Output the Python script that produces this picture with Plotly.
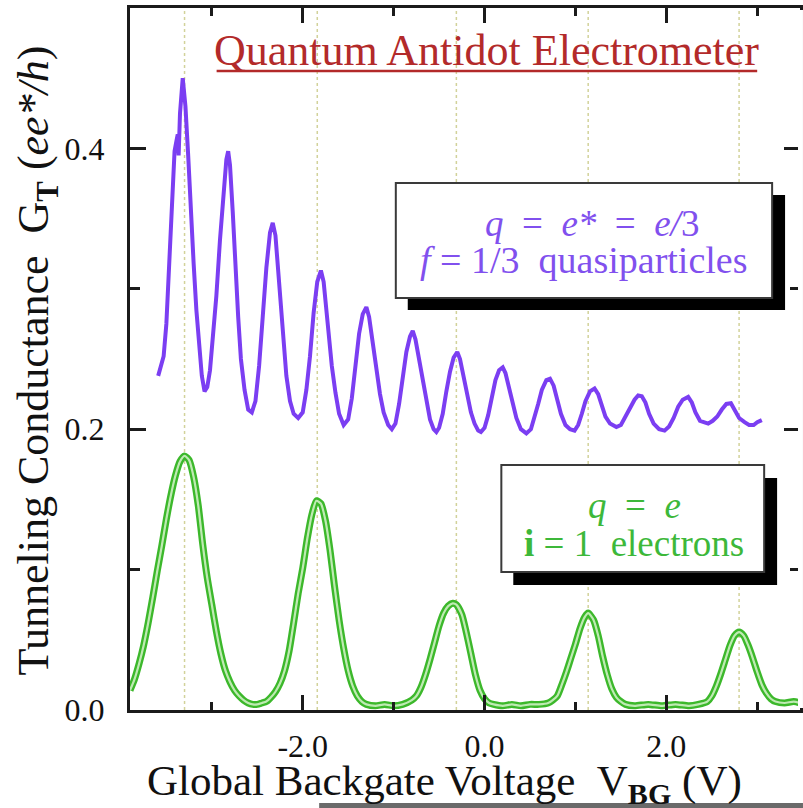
import plotly.graph_objects as go

# ---------------- data ----------------
# f = 1/3 quasiparticle trace (purple)
qp_v = [-3.59,-3.56,-3.53,-3.50,-3.47,-3.44,-3.41,-3.39,-3.375,-3.365,-3.35,-3.32,-3.29,-3.26,-3.23,-3.20,-3.17,-3.14,-3.11,-3.08,
        -3.05,-3.02,-2.99,-2.95,-2.91,-2.87,-2.84,-2.82,-2.80,-2.77,-2.74,-2.71,-2.68,-2.64,-2.60,-2.56,-2.52,-2.48,-2.44,-2.40,
        -2.36,-2.33,-2.30,-2.27,-2.24,-2.21,-2.18,-2.14,-2.10,-2.05,-2.00,-1.96,-1.92,-1.88,-1.84,-1.80,-1.77,-1.74,-1.71,-1.68,
        -1.64,-1.60,-1.55,-1.50,-1.46,-1.42,-1.38,-1.34,-1.30,-1.27,-1.23,-1.19,-1.15,-1.11,-1.06,-1.02,-0.98,-0.94,-0.90,-0.86,
        -0.82,-0.79,-0.76,-0.72,-0.68,-0.64,-0.60,-0.56,-0.53,-0.50,-0.46,-0.42,-0.38,-0.34,-0.30,-0.27,-0.23,-0.19,-0.15,-0.11,
        -0.07,-0.04,0.00,0.04,0.08,0.12,0.16,0.20,0.23,0.27,0.31,0.35,0.40,0.46,0.51,0.55,0.59,0.63,0.68,0.72,
        0.76,0.80,0.84,0.89,0.94,0.99,1.03,1.07,1.11,1.16,1.21,1.25,1.29,1.33,1.38,1.45,1.50,1.55,1.60,1.65,
        1.69,1.73,1.77,1.81,1.86,1.92,1.98,2.03,2.08,2.13,2.18,2.24,2.28,2.32,2.37,2.42,2.46,2.51,2.56,2.61,
        2.66,2.71,2.75,2.80,2.86,2.91,2.96,3.00,3.05]
qp_g = [0.238,0.245,0.252,0.275,0.315,0.360,0.398,0.405,0.410,0.395,0.425,0.450,0.430,0.395,0.350,0.318,0.285,0.258,0.238,0.227,
        0.230,0.242,0.262,0.295,0.335,0.372,0.392,0.398,0.388,0.355,0.315,0.280,0.250,0.228,0.214,0.212,0.220,0.245,0.280,0.315,
        0.340,0.347,0.338,0.315,0.290,0.262,0.238,0.220,0.211,0.208,0.212,0.228,0.252,0.283,0.305,0.313,0.305,0.285,0.265,0.245,
        0.226,0.211,0.203,0.207,0.222,0.247,0.268,0.282,0.287,0.280,0.262,0.243,0.225,0.212,0.203,0.200,0.204,0.218,0.237,0.255,
        0.266,0.270,0.264,0.250,0.234,0.219,0.207,0.200,0.198,0.201,0.211,0.227,0.241,0.251,0.255,0.250,0.238,0.224,0.212,0.204,
        0.199,0.198,0.201,0.210,0.223,0.235,0.242,0.244,0.240,0.230,0.218,0.208,0.200,0.197,0.200,0.208,0.218,0.228,0.235,0.236,
        0.231,0.221,0.211,0.203,0.200,0.199,0.203,0.211,0.220,0.227,0.229,0.225,0.217,0.209,0.204,0.2015,0.203,0.209,0.216,0.221,
        0.224,0.2235,0.219,0.211,0.204,0.200,0.199,0.202,0.208,0.216,0.221,0.223,0.219,0.212,0.206,0.205,0.204,0.206,0.209,0.214,
        0.218,0.2185,0.214,0.208,0.205,0.203,0.203,0.205,0.2065]

# electron trace (green)
el_v = [-3.90,-3.85,-3.80,-3.75,-3.70,-3.65,-3.60,-3.55,-3.50,-3.45,-3.40,-3.35,-3.30,-3.25,-3.20,-3.15,-3.10,-3.05,-3.00,-2.95,
        -2.90,-2.85,-2.80,-2.75,-2.70,-2.65,-2.60,-2.55,-2.50,-2.45,-2.40,-2.35,-2.30,-2.25,-2.20,-2.15,-2.10,-2.05,-2.00,-1.95,
        -1.90,-1.85,-1.80,-1.75,-1.70,-1.65,-1.60,-1.55,-1.50,-1.45,-1.40,-1.35,-1.30,-1.20,-1.10,-1.00,-0.90,-0.80,-0.75,-0.70,
        -0.65,-0.60,-0.55,-0.50,-0.45,-0.40,-0.35,-0.31,-0.25,-0.20,-0.15,-0.10,-0.05,0.00,0.05,0.10,0.20,0.30,0.40,0.50,
        0.60,0.70,0.75,0.80,0.85,0.90,0.95,1.00,1.05,1.10,1.14,1.20,1.25,1.30,1.35,1.40,1.45,1.50,1.55,1.65,
        1.80,1.95,2.10,2.25,2.35,2.45,2.50,2.55,2.60,2.65,2.70,2.75,2.80,2.85,2.90,2.95,3.00,3.05,3.10,3.15,
        3.20,3.30,3.40,3.47]
el_g = [0.014,0.022,0.033,0.046,0.062,0.080,0.099,0.117,0.136,0.153,0.167,0.177,0.181,0.178,0.166,0.146,0.118,0.094,0.075,0.056,
        0.040,0.028,0.020,0.014,0.010,0.007,0.005,0.004,0.004,0.005,0.006,0.009,0.013,0.019,0.028,0.042,0.062,0.083,0.101,0.122,
        0.139,0.149,0.147,0.135,0.114,0.088,0.064,0.044,0.028,0.017,0.010,0.006,0.004,0.003,0.004,0.003,0.004,0.007,0.010,0.016,
        0.025,0.036,0.048,0.060,0.069,0.074,0.076,0.075,0.068,0.055,0.040,0.025,0.014,0.008,0.005,0.004,0.003,0.004,0.003,0.004,
        0.004,0.005,0.007,0.010,0.018,0.027,0.037,0.047,0.058,0.066,0.069,0.064,0.053,0.038,0.025,0.015,0.009,0.006,0.004,0.003,
        0.004,0.003,0.004,0.003,0.004,0.006,0.010,0.017,0.026,0.036,0.046,0.053,0.0555,0.053,0.046,0.037,0.027,0.018,0.012,0.008,
        0.006,0.005,0.006,0.005]

# dotted guide lines at the electron peak positions
guide_v = [-3.30, -1.84, -0.31, 1.14, 2.80]

x_tickvals = [-2, 0, 2]
x_ticktext = ["-2.0", "0.0", "2.0"]
y_tickvals = [0.0, 0.2, 0.4]
y_ticktext = ["0.0", "0.2", "0.4"]

# ---------------- styling ----------------
SERIF = "Liberation Serif"
PURPLE = "#7b3ef2"
GREEN = "#3cb82b"
TITLE_RED = "#b32a2a"
AXIS = "#1b1b1b"

W, H = 803, 808
L, R, T, B = 130, 803, 8, 710


def px(x):
    return (x - L) / (R - L)


def py(y):
    return (B - y) / (B - T)


fig = go.Figure()

fig.add_trace(go.Scatter(x=qp_v, y=qp_g, mode="lines",
                         line=dict(color=PURPLE, width=4), hoverinfo="skip"))
fig.add_trace(go.Scatter(x=el_v, y=el_g, mode="lines",
                         line=dict(color=GREEN, width=7, shape="spline", smoothing=0.6), hoverinfo="skip"))
fig.add_trace(go.Scatter(x=el_v, y=el_g, mode="lines",
                         line=dict(color="#bfeab3", width=2.2, shape="spline", smoothing=0.6), hoverinfo="skip"))

shapes = []
for v in guide_v:
    shapes.append(dict(type="line", xref="x", yref="paper", x0=v, x1=v, y0=0, y1=1,
                       line=dict(color="#d2d29a", width=1.5, dash="dot"), layer="below"))
# title underline
shapes.append(dict(type="line", xref="paper", yref="paper", x0=px(217), x1=px(760), y0=py(71), y1=py(71),
                   line=dict(color=TITLE_RED, width=2.5)))
# box 1 (quasiparticles)
shapes.append(dict(type="rect", xref="paper", yref="paper", x0=px(409), x1=px(788), y0=py(310), y1=py(195),
                   fillcolor="black", line=dict(width=0)))
shapes.append(dict(type="rect", xref="paper", yref="paper", x0=px(397), x1=px(775), y0=py(298), y1=py(183),
                   fillcolor="white", line=dict(color="#3a3a3a", width=2)))
# box 2 (electrons)
shapes.append(dict(type="rect", xref="paper", yref="paper", x0=px(515), x1=px(780), y0=py(585), y1=py(478),
                   fillcolor="black", line=dict(width=0)))
shapes.append(dict(type="rect", xref="paper", yref="paper", x0=px(503), x1=px(767), y0=py(572), y1=py(465),
                   fillcolor="white", line=dict(color="#3a3a3a", width=2)))
# right frame edge falls outside the cropped reference: hide it
shapes.append(dict(type="rect", xref="paper", yref="paper", x0=px(801), x1=px(806), y0=py(708), y1=py(10),
                   fillcolor="white", line=dict(width=0)))
# bottom gray strip (edge of the screenshot)
shapes.append(dict(type="rect", xref="paper", yref="paper", x0=px(320), x1=px(806), y0=py(808), y1=py(803),
                   fillcolor="#6a6a6a", line=dict(width=0)))

NB = "\u00a0"
annotations = [
    dict(text="Quantum Antidot Electrometer", x=px(488), y=py(50), xref="paper", yref="paper",
         showarrow=False, font=dict(family=SERIF, size=44, color=TITLE_RED), xanchor="center", yanchor="middle"),
    dict(text="Tunneling Conductance" + NB + NB + "G<sub><b>T</b></sub>" + NB + "(<i>ee*/h</i>)",
         x=px(37), y=py(360), xref="paper", yref="paper", textangle=-90,
         showarrow=False, font=dict(family=SERIF, size=44, color="#111111"), xanchor="center", yanchor="middle"),
    dict(text="Global Backgate Voltage" + NB + NB + "V<sub><b>BG</b></sub>" + NB + "(V)",
         x=px(446), y=py(784), xref="paper", yref="paper",
         showarrow=False, font=dict(family=SERIF, size=43, color="#111111"), xanchor="center", yanchor="middle"),
    dict(text="<i>q</i>" + NB * 2 + "=" + NB * 2 + "<i>e*</i>" + NB * 2 + "=" + NB * 2 + "<i>e/</i>3",
         x=px(594), y=py(223), xref="paper", yref="paper",
         showarrow=False, font=dict(family=SERIF, size=37, color="#8150ee"), xanchor="center", yanchor="middle"),
    dict(text="<i>f</i>" + NB + "=" + NB + "1/3" + NB * 2 + "quasiparticles",
         x=px(586), y=py(260), xref="paper", yref="paper",
         showarrow=False, font=dict(family=SERIF, size=38, color="#8150ee"), xanchor="center", yanchor="middle"),
    dict(text="<i>q</i>" + NB * 2 + "=" + NB * 2 + "<i>e</i>",
         x=px(637), y=py(505), xref="paper", yref="paper",
         showarrow=False, font=dict(family=SERIF, size=37, color="#3db83a"), xanchor="center", yanchor="middle"),
    dict(text="<b>i</b>" + NB + "=" + NB + "1" + NB * 2 + "electrons",
         x=px(636), y=py(543), xref="paper", yref="paper",
         showarrow=False, font=dict(family=SERIF, size=37, color="#3db83a"), xanchor="center", yanchor="middle"),
]

fig.update_layout(
    width=W, height=H,
    margin=dict(l=L, r=W - R, t=T, b=H - B, pad=0),
    paper_bgcolor="white", plot_bgcolor="white",
    showlegend=False, hovermode=False,
    font=dict(family=SERIF),
    shapes=shapes, annotations=annotations,
)

fig.update_xaxes(range=[-3.90, 3.47], tickvals=x_tickvals, ticktext=x_ticktext,
                 showgrid=False, zeroline=False, showline=True, linecolor=AXIS, linewidth=3,
                 mirror="ticks", ticks="inside", ticklen=15, tickwidth=3, tickcolor=AXIS,
                 ticklabelstandoff=6,
                 tickfont=dict(family=SERIF, size=32, color="#111111"),
                 minor=dict(dtick=1, tick0=0, ticks="inside", ticklen=8, tickwidth=3, tickcolor=AXIS, showgrid=False))
fig.update_yaxes(range=[0, 0.5], tickvals=y_tickvals, ticktext=y_ticktext,
                 showgrid=False, zeroline=False, showline=True, linecolor=AXIS, linewidth=3,
                 mirror="ticks", ticks="inside", ticklen=16, tickwidth=3, tickcolor=AXIS,
                 ticklabelstandoff=16,
                 tickfont=dict(family=SERIF, size=32, color="#111111"),
                 minor=dict(dtick=0.1, tick0=0, ticks="inside", ticklen=10, tickwidth=3, tickcolor=AXIS, showgrid=False))

fig.write_html("out.html", config={"displayModeBar": False},
               post_script="document.body.style.margin='0';document.body.style.overflow='hidden';")
